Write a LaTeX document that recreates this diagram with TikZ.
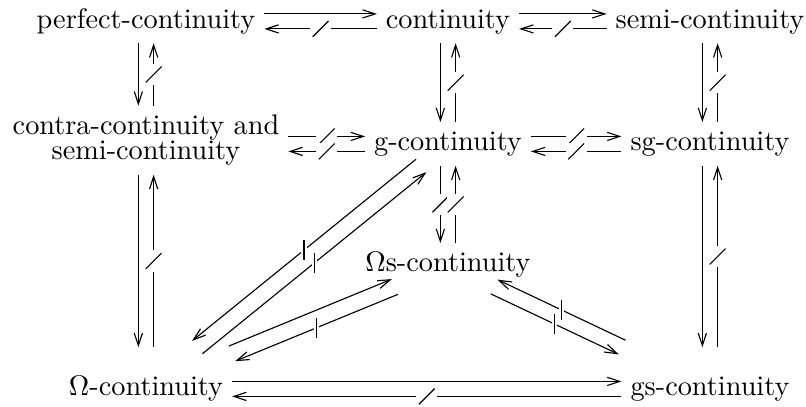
\documentclass[tikz,border=0pt]{standalone}
\usetikzlibrary{arrows.meta,calc}
\begin{document}
\begin{tikzpicture}[x=0.3534pt,y=-0.3534pt,
  obj/.style={inner sep=3pt,text height=7pt,text depth=2pt,anchor=base},
  tall/.style={inner sep=3pt,text height=14pt,text depth=9pt,anchor=base},
  arr/.style={line width=0.4pt,-{Straight Barb[length=4.4pt,width=2.9pt]}},
  nh/.style={fill=white,inner sep=0pt,minimum width=7.5pt,minimum height=5.8pt,
    path picture={\draw[-,line width=0.4pt] ([shift={(-2.8pt,-2.8pt)}]path picture bounding box.center) -- ([shift={(2.8pt,2.8pt)}]path picture bounding box.center);}},
  nv/.style={fill=white,inner sep=0pt,minimum width=6pt,minimum height=7.5pt,
    path picture={\draw[-,line width=0.4pt] ([shift={(-2.8pt,-2.8pt)}]path picture bounding box.center) -- ([shift={(2.8pt,2.8pt)}]path picture bounding box.center);}},
  nd/.style={fill=white,inner sep=0pt,minimum width=1.8pt,minimum height=7pt,
    path picture={\draw[-,line width=0.4pt] (path picture bounding box.north) -- (path picture bounding box.south);}}
]
\useasboundingbox (0,0) rectangle (806,407);
\node[obj] (pc) at (146,28.5) {perfect-continuity};
\node[obj] (c) at (448,28.5) {continuity};
\node[obj] (sc) at (710,28.5) {semi-continuity};
\node[inner sep=3pt,align=center,anchor=north] (ct) at (146,105.7) {contra-continuity and\\[-3pt]semi-continuity};
\node[obj] (g) at (448,151) {g-continuity};
\node[obj] (sg) at (710,151) {sg-continuity};
\node[obj] (os) at (448,272) {$\Omega$s-continuity};
\node[tall] (om) at (146,396) {$\Omega$-continuity};
\node[tall] (gs) at (710,396) {gs-continuity};
% top row
\draw[arr] ([yshift=2.65pt]pc.east) -- ([yshift=2.65pt]c.west);
\draw[arr] ([yshift=-2.65pt]c.west) -- node[nh]{} ([yshift=-2.65pt]pc.east);
\draw[arr] ([yshift=2.65pt]c.east) -- ([yshift=2.65pt]sc.west);
\draw[arr] ([yshift=-2.65pt]sc.west) -- node[nh]{} ([yshift=-2.65pt]c.east);
% middle row
\draw[arr] ($(ct.east |- g.west)+(0,2.65pt)$) -- node[nh]{} ([yshift=2.65pt]g.west);
\draw[arr] ([yshift=-2.65pt]g.west) -- node[nh]{} ($(ct.east |- g.west)+(0,-2.65pt)$);
\draw[arr] ([yshift=2.65pt]g.east) -- node[nh]{} ([yshift=2.65pt]sg.west);
\draw[arr] ([yshift=-2.65pt]sg.west) -- node[nh]{} ([yshift=-2.65pt]g.east);
% bottom row
\draw[arr] ([yshift=2.65pt]om.east) -- ([yshift=2.65pt]gs.west);
\draw[arr] ([yshift=-2.65pt]gs.west) -- node[nh]{} ([yshift=-2.65pt]om.east);
% verticals
\draw[arr] ([xshift=-2.7pt]pc.south) -- ([xshift=-2.7pt]ct.north);
\draw[arr] ([xshift=2.7pt]ct.north) -- node[nv]{} ([xshift=2.7pt]pc.south);
\draw[arr] ([xshift=-2.7pt]c.south) -- ([xshift=-2.7pt]g.north);
\draw[arr] ([xshift=2.7pt]g.north) -- node[nv]{} ([xshift=2.7pt]c.south);
\draw[arr] ([xshift=-2.7pt]sc.south) -- ([xshift=-2.7pt]sg.north);
\draw[arr] ([xshift=2.7pt]sg.north) -- node[nv]{} ([xshift=2.7pt]sc.south);
\draw[arr] ([xshift=-2.7pt]g.south) -- node[nv]{} ([xshift=-2.7pt]os.north);
\draw[arr] ([xshift=2.7pt]os.north) -- node[nv]{} ([xshift=2.7pt]g.south);
\draw[arr] ([xshift=-2.7pt]ct.south) -- ([xshift=-2.7pt]om.north);
\draw[arr] ([xshift=2.7pt]om.north) -- node[nv]{} ([xshift=2.7pt]ct.south);
\draw[arr] ([xshift=-2.7pt]sg.south) -- ([xshift=-2.7pt]gs.north);
\draw[arr] ([xshift=2.7pt]gs.north) -- node[nv]{} ([xshift=2.7pt]sg.south);
% diagonals
\draw[arr,transform canvas={shift={(-5.2,-6.4)}}] (g) -- node[nd]{} (om);
\draw[arr,transform canvas={shift={(5.2,6.4)}}] (om) -- node[nd]{} (g);
\draw[arr,transform canvas={shift={(-3.1,-7.6)}}] (om) -- (os);
\draw[arr,transform canvas={shift={(3.1,7.6)}}] (os) -- node[nd]{} (om);
\draw[arr,transform canvas={shift={(3.4,-7.1)}}] (gs) -- node[nd]{} (os);
\draw[arr,transform canvas={shift={(-3.4,7.1)}}] (os) -- node[nd]{} (gs);
\end{tikzpicture}
\end{document}
